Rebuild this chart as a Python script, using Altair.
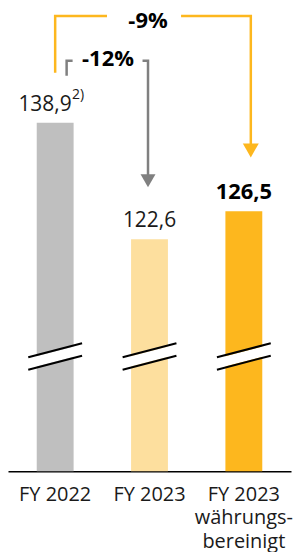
import altair as alt
import pandas as pd

# ---- data ----
axis_labels = ["FY 2022", "FY 2023", "FY 2023|währungs-|bereinigt"]
values = [138.9, 122.6, 126.5]
value_labels = ["138,9", "122,6", "126,5"]
footnotes = ["2)", "", ""]
bold_flags = [False, False, True]
bar_colors = ["#bfbfbf", "#fddf9e", "#fdb71e"]
change_labels = ["-12%", "-9%"]

# ---- layout ----
W, H = 284, 464
Y_MIN, Y_MAX = 90.14, 154.8
STEP = W / 3
centers = [STEP * (i + 0.5) for i in range(3)]
FONT = "Open Sans"
ORANGE = "#fdb71e"
GRAY = "#808080"

df = pd.DataFrame({
    "cat": axis_labels, "value": values, "label": value_labels,
    "note": footnotes, "bold": bold_flags, "color": bar_colors,
})

x_enc = alt.X("cat:N", sort=axis_labels,
              scale=alt.Scale(paddingInner=0, paddingOuter=0),
              axis=alt.Axis(title=None, labelAngle=0, ticks=False,
                            labelExpr="split(datum.label, '|')",
                            domainColor="#000000", domainWidth=1.5,
                            labelFont=FONT, labelFontSize=20, labelColor="#1a1a1a",
                            labelPadding=13, labelLineHeight=23.5, labelBaseline="top"))
y_enc = alt.Y("value:Q", scale=alt.Scale(domain=[Y_MIN, Y_MAX], zero=False, nice=False), axis=None)

base = alt.Chart(df)
bars = base.mark_bar(size=37).encode(x=x_enc, y=y_enc, y2=alt.datum(Y_MIN),
                                     color=alt.Color("color:N", scale=None))

plain = base.transform_filter("datum.note == '' && !datum.bold").mark_text(
    baseline="alphabetic", dy=-12, fontSize=21, font=FONT, color="#1a1a1a"
).encode(x=x_enc, y=y_enc, text="label:N")
boldt = base.transform_filter("datum.bold").mark_text(
    baseline="alphabetic", dy=-12, fontSize=22, font=FONT, fontWeight="bold", color="#000000"
).encode(x=x_enc, y=y_enc, text="label:N")
noted = base.transform_filter("datum.note != ''").mark_text(
    baseline="alphabetic", align="right", dx=16.5, dy=-12, fontSize=21, font=FONT, color="#1a1a1a"
).encode(x=x_enc, y=y_enc, text="label:N")
note = base.transform_filter("datum.note != ''").mark_text(
    baseline="alphabetic", align="left", dx=17, dy=-24, fontSize=14, font=FONT, color="#1a1a1a"
).encode(x=x_enc, y=y_enc, text="note:N")

# ---- axis break marks ----
brk_rows = []
for i, c in enumerate(centers):
    brk_rows.append({"g": i, "kind": "white", "x": c - 27, "x2": c + 27, "y": 355.75, "y2": 341.75})
    brk_rows.append({"g": i, "kind": "black", "x": c - 27, "x2": c + 27, "y": 349.5, "y2": 335.5})
    brk_rows.append({"g": i, "kind": "black", "x": c - 27, "x2": c + 27, "y": 362.0, "y2": 348.0})
brk = pd.DataFrame(brk_rows)
px = lambda f: alt.X(f"{f}:Q", scale=None, axis=None)
py = lambda f: alt.Y(f"{f}:Q", scale=None, axis=None)
brk_white = alt.Chart(brk).transform_filter("datum.kind == 'white'").mark_rule(
    color="white", strokeWidth=10).encode(x=px("x"), x2="x2:Q", y=py("y"), y2="y2:Q")
brk_black = alt.Chart(brk).transform_filter("datum.kind == 'black'").mark_rule(
    color="black", strokeWidth=2).encode(x=px("x"), x2="x2:Q", y=py("y"), y2="y2:Q")

# ---- change brackets ----
c0, c1, c2 = centers
paths = [
    ("o1", ORANGE, [(c0, 64), (c0, 7), (c0 + 52, 7)]),
    ("o2", ORANGE, [(c2 - 63, 7), (c2 + 7, 7), (c2 + 7, 137)]),
    ("g1", GRAY, [(c0 + 11.5, 67), (c0 + 11.5, 52), (c0 + 17.5, 52)]),
    ("g2", GRAY, [(c1 - 7, 52), (c1 - 1.5, 52), (c1 - 1.5, 168)]),
]
prow = []
for name, col, pts in paths:
    for k, (xx, yy) in enumerate(pts):
        prow.append({"path": name, "col": col, "k": k, "x": xx, "y": yy})
pdf = pd.DataFrame(prow)
brackets = alt.Chart(pdf).mark_line(strokeWidth=2.5, strokeJoin="miter").encode(
    x=px("x"), y=py("y"), detail="path:N", order="k:Q",
    color=alt.Color("col:N", scale=None))

heads = pd.DataFrame({"x": [c2 + 7, c1 - 1.5], "y": [141, 171.5],
                      "col": [ORANGE, GRAY], "s": [256, 225]})
arrowheads = alt.Chart(heads).mark_point(
    shape="M-1,-0.75L1,-0.75L0,1Z", filled=True, opacity=1, strokeWidth=0
).encode(x=px("x"), y=py("y"), color=alt.Color("col:N", scale=None),
         size=alt.Size("s:Q", scale=None))

ctext = pd.DataFrame({"t": change_labels, "x": [c0 + 53, c1 - 1.5], "y": [57, 19.5]})
change_txt = alt.Chart(ctext).mark_text(
    baseline="alphabetic", fontSize=22, font=FONT, fontWeight="bold", color="#000000"
).encode(x=px("x"), y=py("y"), text="t:N")

chart = alt.layer(
    bars, brk_white, brk_black, plain, boldt, noted, note,
    brackets, arrowheads, change_txt
).properties(width=W, height=H, padding=0, background="white"
).configure_view(stroke=None)

chart.save("out.html", embed_options={"renderer": "svg", "actions": False})
